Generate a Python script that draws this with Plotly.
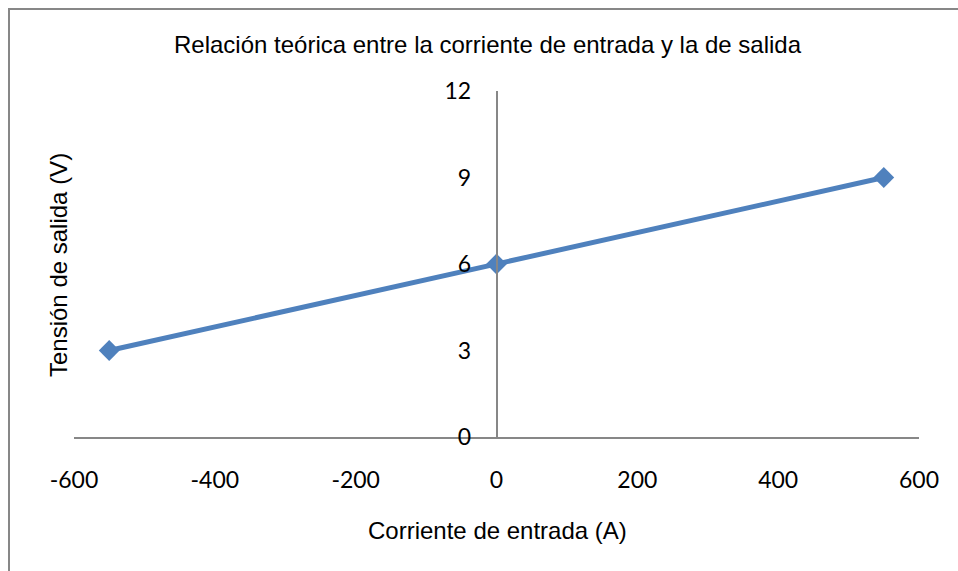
import plotly.graph_objects as go

# Data: input current (A) vs output voltage (V)
corriente = [-550, 0, 550]
tension = [3, 6, 9]

x_ticks = [-600, -400, -200, 0, 200, 400, 600]
y_ticks = [0, 3, 6, 9, 12]

titulo = "Relación teórica entre la corriente de entrada y la de salida"
titulo_x = "Corriente de entrada (A)"
titulo_y = "Tensión de salida (V)"

azul = "#4F81BD"
gris = "#878787"

fig = go.Figure()
fig.add_trace(go.Scatter(
    x=corriente, y=tension, mode="lines+markers",
    line=dict(color=azul, width=5),
    marker=dict(symbol="diamond", size=16, color=azul),
    showlegend=False, cliponaxis=False,
))

W, H = 958, 571
L, R, T, B = 74, 39, 91, 134
pw, ph = W - L - R, H - T - B

arial = dict(family="Liberation Sans, Arial", size=24)

fig.update_layout(
    width=W, height=H,
    margin=dict(l=L, r=R, t=T, b=B),
    paper_bgcolor="white", plot_bgcolor="white",
    font=dict(family="Lato, sans-serif", size=23, color="#000000"),
    xaxis=dict(
        range=[-600, 600], tickvals=x_ticks, ticktext=[str(v) for v in x_ticks],
        showgrid=False, zeroline=False, showline=True, linecolor=gris, linewidth=1.5,
        ticks="", ticklabelstandoff=22,
    ),
    yaxis=dict(
        range=[0, 12], tickvals=y_ticks, ticktext=[str(v) for v in y_ticks],
        showgrid=False, zeroline=False, showline=True, linecolor=gris, linewidth=1.5,
        ticks="", anchor="free", position=0.5, ticklabelstandoff=20,
    ),
    annotations=[
        dict(text=titulo, xref="paper", yref="paper", x=(488 - L) / pw, y=1 + (T - 45) / ph,
             xanchor="center", yanchor="middle", showarrow=False, font=arial),
        dict(text=titulo_x, xref="paper", yref="paper", x=(497 - L) / pw, y=-(530 - T - ph) / ph,
             xanchor="center", yanchor="middle", showarrow=False, font=arial),
        dict(text=titulo_y, xref="paper", yref="paper", x=(58 - L) / pw, y=1 - (265 - T) / ph,
             xanchor="center", yanchor="middle", showarrow=False, textangle=-90, font=arial),
    ],
    shapes=[
        dict(type="rect", xref="paper", yref="paper",
             x0=(9 - L) / pw, x1=(W + 5 - L) / pw,
             y0=1 - (H + 5 - T) / ph, y1=1 + (T - 9) / ph,
             line=dict(color=gris, width=2), fillcolor="rgba(0,0,0,0)", layer="below"),
    ],
)

fig.write_html("out.html")
